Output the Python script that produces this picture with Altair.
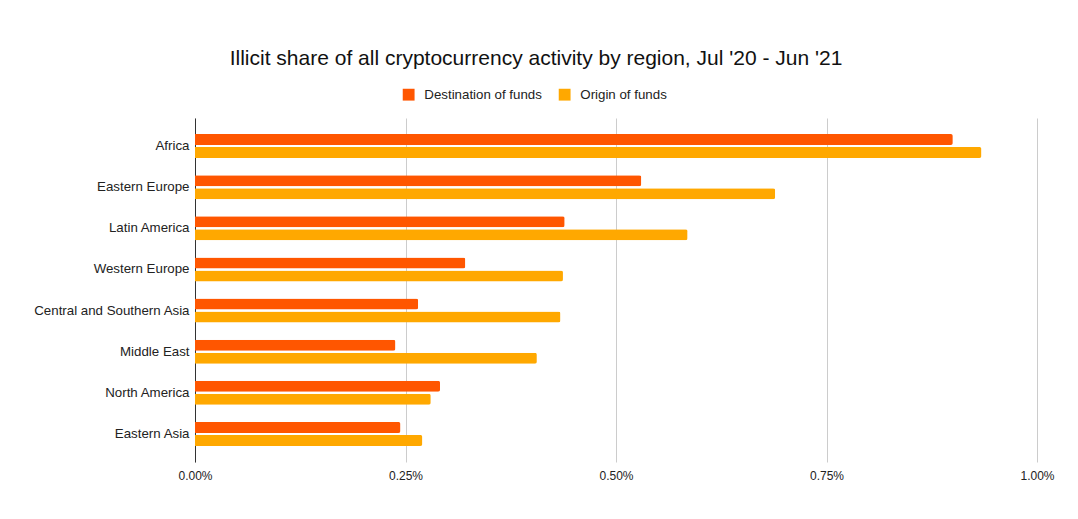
import altair as alt
import pandas as pd

regions = ["Africa", "Eastern Europe", "Latin America", "Western Europe",
           "Central and Southern Asia", "Middle East", "North America", "Eastern Asia"]
destination = [0.900, 0.530, 0.439, 0.321, 0.265, 0.238, 0.291, 0.244]
origin = [0.934, 0.689, 0.585, 0.437, 0.434, 0.406, 0.280, 0.270]
series_names = ["Destination of funds", "Origin of funds"]
series_colors = ["#ff5600", "#ffa800"]

rows = []
for r, d, o in zip(regions, destination, origin):
    rows.append({"region": r, "series": series_names[0], "value": d})
    rows.append({"region": r, "series": series_names[1], "value": o})
df = pd.DataFrame(rows)

font = "Liberation Sans"

chart = alt.Chart(df).mark_bar(cornerRadiusEnd=2).encode(
    x=alt.X("value:Q",
            scale=alt.Scale(domain=[0, 1.0], nice=False),
            axis=alt.Axis(title=None, values=[0, 0.25, 0.5, 0.75, 1.0],
                          labelExpr="format(datum.value, '.2f') + '%'",
                          grid=True, gridColor="#cccccc", domain=False, ticks=False,
                          labelFlush=False,
                          labelFont=font, labelFontSize=12, labelColor="#222222",
                          labelPadding=8)),
    y=alt.Y("region:N", sort=regions,
            scale=alt.Scale(paddingInner=0.416, paddingOuter=0.389),
            axis=alt.Axis(title=None, domain=True, domainColor="#333333", ticks=False,
                          labelFont=font, labelFontSize=13.3, labelColor="#222222",
                          labelPadding=6, grid=False)),
    yOffset=alt.YOffset("series:N", sort=series_names,
                        scale=alt.Scale(paddingInner=0.15, paddingOuter=0)),
    color=alt.Color("series:N", sort=series_names,
                    scale=alt.Scale(domain=series_names, range=series_colors),
                    legend=alt.Legend(title=None, orient="none", direction="horizontal",
                                      legendX=207, legendY=-30,
                                      symbolType="square", symbolSize=140,
                                      symbolStrokeWidth=0,
                                      labelFont=font, labelFontSize=13.3,
                                      labelColor="#222222", columnPadding=16,
                                      labelOffset=9)),
).properties(
    width=842,
    height=344,
    title=alt.TitleParams(
        "Illicit share of all cryptocurrency activity by region, Jul '20 - Jun '21",
        font=font, fontSize=21, fontWeight="normal", color="#111111",
        anchor="middle", dx=-80, offset=19),
    padding={"left": 187, "top": 110, "right": 33, "bottom": 30},
    autosize=alt.AutoSizeParams(type="none"),
    background="white",
).configure_view(stroke=None)

chart.save("out.html", embed_options={"renderer": "svg", "actions": False})
